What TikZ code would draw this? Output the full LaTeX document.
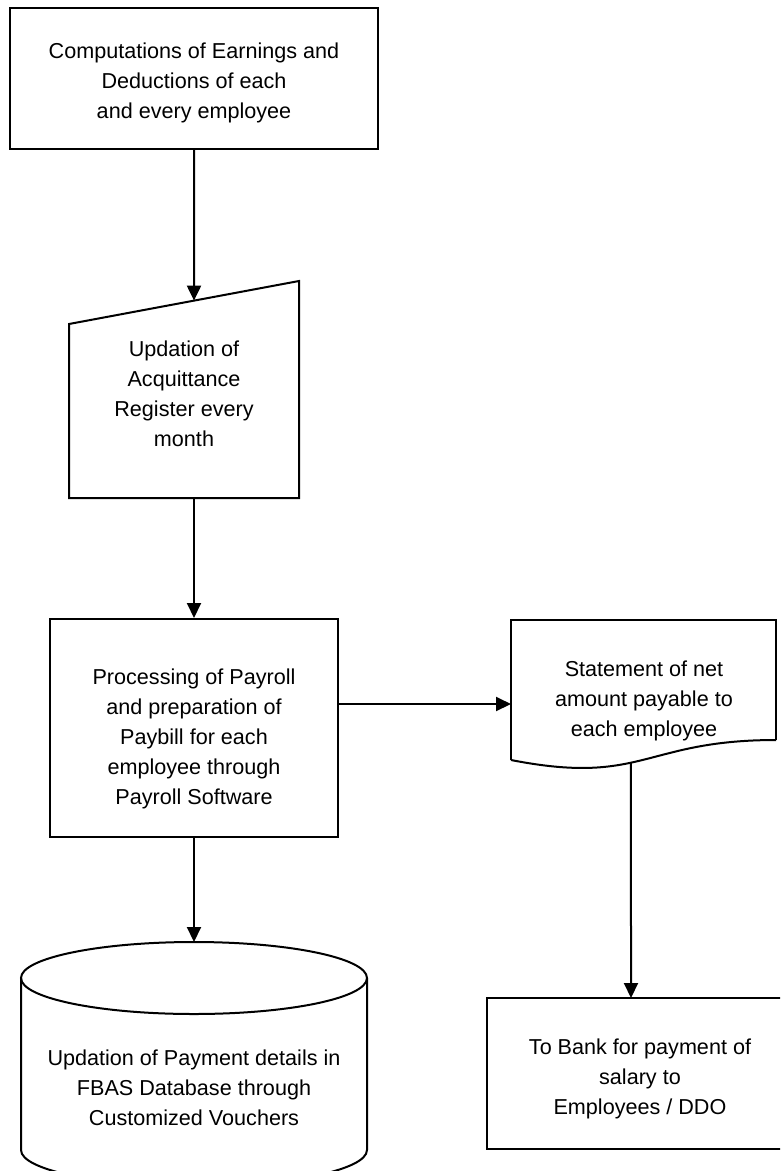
\documentclass[tikz,border=0pt]{standalone}
\usepackage{fontspec}
\setmainfont{Liberation Sans}
\usetikzlibrary{arrows.meta,intersections,calc}

\begin{document}
\begin{tikzpicture}[x=1pt,y=-1pt,
  lbl/.style={align=center,font=\fontsize{21.6}{30}\selectfont,inner sep=0pt},
  outline/.style={line width=2pt,draw=black,line join=miter},
  procbox/.style={outline,rectangle},
  flow/.style={line width=2pt,-{Triangle[length=15pt,width=14pt]}}
]
\useasboundingbox (0,0) rectangle (780,1171);
\clip (0,0) rectangle (780,1171);

% --- process box: computations
\node[procbox,minimum width=368pt,minimum height=141pt] (comp) at (194,78.5) {};
\node[lbl] (comptext) at (194,83)
  {Computations of Earnings and\\Deductions of each\\and every employee};

% --- manual input: acquittance register
\coordinate (mi-tl) at (69,324);
\coordinate (mi-tr) at (299,281);
\coordinate (mi-br) at (299,498);
\coordinate (mi-bl) at (69,498);
\draw[outline] (mi-tl) -- (mi-tr) -- (mi-br) -- (mi-bl) -- cycle;
\coordinate (mi-in) at ($(mi-tl)!0.5435!(mi-tr)$);
\coordinate (mi-out) at (194,498);
\node[lbl] (acq) at (184,394) {Updation of\\Acquittance\\Register every\\month};

% --- process box: payroll processing
\node[procbox,minimum width=288pt,minimum height=218pt] (proc) at (194,728) {};
\node[lbl] (proctext) at (194,738.5)
  {Processing of Payroll\\and preparation of\\Paybill for each\\employee through\\Payroll Software};

% --- document: statement of net amount (flat top, wavy foot)
\coordinate (doc-tl) at (511,620);
\coordinate (doc-tr) at (776,620);
\coordinate (doc-rb) at (776,740);
\coordinate (doc-lb) at (511,760);
\draw[outline] (doc-lb) -- (doc-tl) -- (doc-tr) -- (doc-rb);
\draw[outline,name path=docwave] (doc-rb) .. controls (643.5,740) and (643.5,786) .. (doc-lb);
\node[lbl] (stmt) at (644,700.5) {Statement of net\\amount payable to\\each employee};
\coordinate (doc-in) at (511,704);
\path[name path=docdrop] (631,700) -- (631,820);
\path[name intersections={of=docwave and docdrop,by=doc-out}];

% --- database cylinder
\coordinate (db-top) at (194,942);
\draw[outline] (194,978) ellipse [x radius=173pt,y radius=36pt];
\draw[outline] (21,978) -- (21,1150) arc[start angle=180,end angle=360,x radius=173pt,y radius=36pt] -- (367,978);
\node[lbl] (db) at (194,1087.5)
  {Updation of Payment details in\\FBAS Database through\\Customized Vouchers};

% --- process box: bank
\node[procbox,minimum width=306pt,minimum height=151pt] (bank) at (640,1073.5) {};
\node[lbl] (banktext) at (640,1078.5)
  {To Bank for payment of\\salary to\\Employees / DDO};
\coordinate (bank-in) at (631,998);

% --- connectors
\draw[flow] (comp.south) -- (mi-in);
\draw[flow] (mi-out) -- (proc.north);
\draw[flow] (proc.east |- doc-in) -- (doc-in);
\draw[flow] (proc.south) -- (db-top);
\draw[flow] (doc-out) -- (bank-in);
\end{tikzpicture}
\end{document}
